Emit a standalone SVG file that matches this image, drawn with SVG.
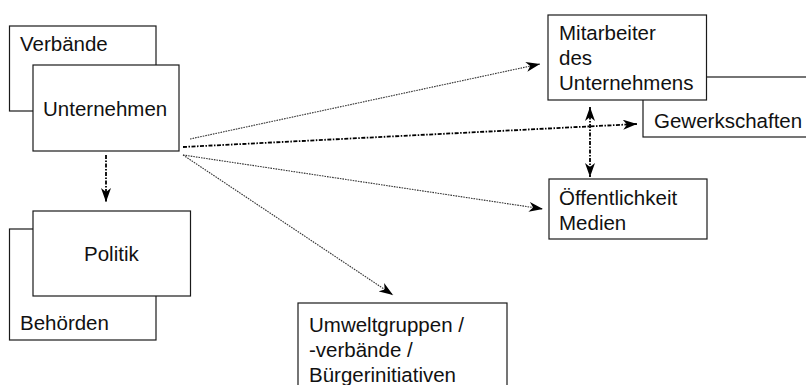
<svg xmlns="http://www.w3.org/2000/svg" width="806" height="385" viewBox="0 0 806 385">
<style>
.box{fill:#fff;stroke:#1a1a1a;stroke-width:1.2}
.t{font-family:"Liberation Sans",Arial,sans-serif;font-size:20.5px;fill:#111}
.thin{fill:none;stroke:#333;stroke-width:1.1;stroke-dasharray:1.6 1}
.thick{fill:none;stroke:#000;stroke-width:1.8;stroke-dasharray:4 1.5 1.5 1.5}
</style>
<defs>
<marker id="ah" viewBox="0 0 14 10" refX="14" refY="5" markerWidth="14" markerHeight="10" markerUnits="userSpaceOnUse" orient="auto-start-reverse">
<path d="M0,0 L14,5 L0,10 L4,5 z" fill="#000"/>
</marker>
</defs>
<rect width="806" height="385" fill="#fff"/>
<g id="verbaende"><rect class="box" x="9.5" y="26" width="146.5" height="85"/><text class="t" x="20" y="51">Verbände</text></g>
<g id="unternehmen"><rect class="box" x="33" y="65" width="146" height="86"/><text class="t" x="43" y="116">Unternehmen</text></g>
<g id="behoerden"><rect class="box" x="9.5" y="229" width="146.5" height="111"/><text class="t" x="20" y="330">Behörden</text></g>
<g id="politik"><rect class="box" x="33" y="211" width="157.5" height="85"/><text class="t" x="84" y="261">Politik</text></g>
<g id="gewerkschaften"><rect class="box" x="643" y="77" width="200" height="60"/><text class="t" x="654" y="128">Gewerkschaften</text></g>
<g id="mitarbeiter"><rect class="box" x="548" y="15" width="158.5" height="85"/><text class="t" x="559" y="40">Mitarbeiter</text><text class="t" x="559" y="65">des</text><text class="t" x="559" y="90">Unternehmens</text></g>
<g id="oeffentlichkeit"><rect class="box" x="549" y="179" width="158" height="60"/><text class="t" x="559" y="205">Öffentlichkeit</text><text class="t" x="559" y="230">Medien</text></g>
<g id="umwelt"><rect class="box" x="298" y="303" width="209" height="100"/><text class="t" x="309" y="332">Umweltgruppen /</text><text class="t" x="309" y="357">-verbände /</text><text class="t" x="309" y="382">Bürgerinitiativen</text></g>
<g id="connectors">
<line class="thick" x1="106" y1="155" x2="106" y2="202" marker-end="url(#ah)"/>
<line class="thin" x1="190" y1="139" x2="540" y2="64" marker-end="url(#ah)"/>
<line class="thick" x1="183" y1="147" x2="637" y2="124" marker-end="url(#ah)"/>
<line class="thin" x1="183" y1="155" x2="543" y2="209" marker-end="url(#ah)"/>
<line class="thin" x1="183" y1="155" x2="393" y2="295" marker-end="url(#ah)"/>
<line class="thick" x1="590" y1="107" x2="590" y2="177" marker-start="url(#ah)" marker-end="url(#ah)"/>
</g>
</svg>
